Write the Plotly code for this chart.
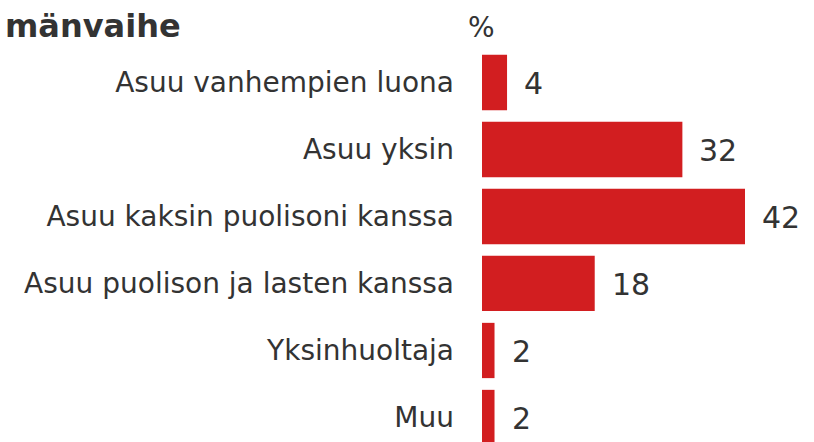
import plotly.graph_objects as go

categories = ["Asuu vanhempien luona", "Asuu yksin", "Asuu kaksin puolisoni kanssa",
              "Asuu puolison ja lasten kanssa", "Yksinhuoltaja", "Muu"]
values = [4, 32, 42, 18, 2, 2]
title_text = "mänvaihe"
unit_text = "%"

W, H = 814, 442
L, T = 482, 49
bar_color = "#d21e20"
text_color = "#333333"
font_family = "DejaVu Sans, Verdana, sans-serif"

fig = go.Figure(go.Bar(
    x=values, y=categories, orientation="h",
    marker=dict(color=bar_color, line=dict(width=0)),
    hoverinfo="skip",
))

for c, v in zip(categories, values):
    fig.add_annotation(x=v, y=c, xref="x", yref="y", text=str(v), showarrow=False,
                       xanchor="left", yanchor="middle", xshift=15, yshift=-1,
                       font=dict(size=30, color=text_color, family=font_family))

plot_w = W - L
fig.add_annotation(x=(3 - L) / plot_w, y=1, xref="paper", yref="paper", text="<b>" + title_text + "</b>",
                   showarrow=False, xanchor="left", yanchor="bottom", yshift=2,
                   font=dict(size=32, color=text_color, family=font_family))
fig.add_annotation(x=(481 - L) / plot_w, y=1, xref="paper", yref="paper", text=unit_text,
                   showarrow=False, xanchor="center", yanchor="bottom", yshift=3,
                   font=dict(size=28, color=text_color, family=font_family))

fig.update_layout(
    width=W, height=H,
    margin=dict(l=L, r=0, t=T, b=0, pad=0),
    paper_bgcolor="white", plot_bgcolor="white",
    bargap=0.175,
    showlegend=False,
    font=dict(family=font_family, color=text_color),
)
fig.update_xaxes(range=[0, plot_w / 6.262], visible=False, fixedrange=True)
fig.update_yaxes(type="category", range=[5.366, -0.5], showgrid=False, zeroline=False,
                 showline=False, ticks="", ticklabelstandoff=27,
                 tickfont=dict(size=28, color=text_color, family=font_family), fixedrange=True)

fig.write_html("out.html", config={"displayModeBar": False},
               post_script="document.body.style.margin='0';document.body.style.overflow='hidden';")
